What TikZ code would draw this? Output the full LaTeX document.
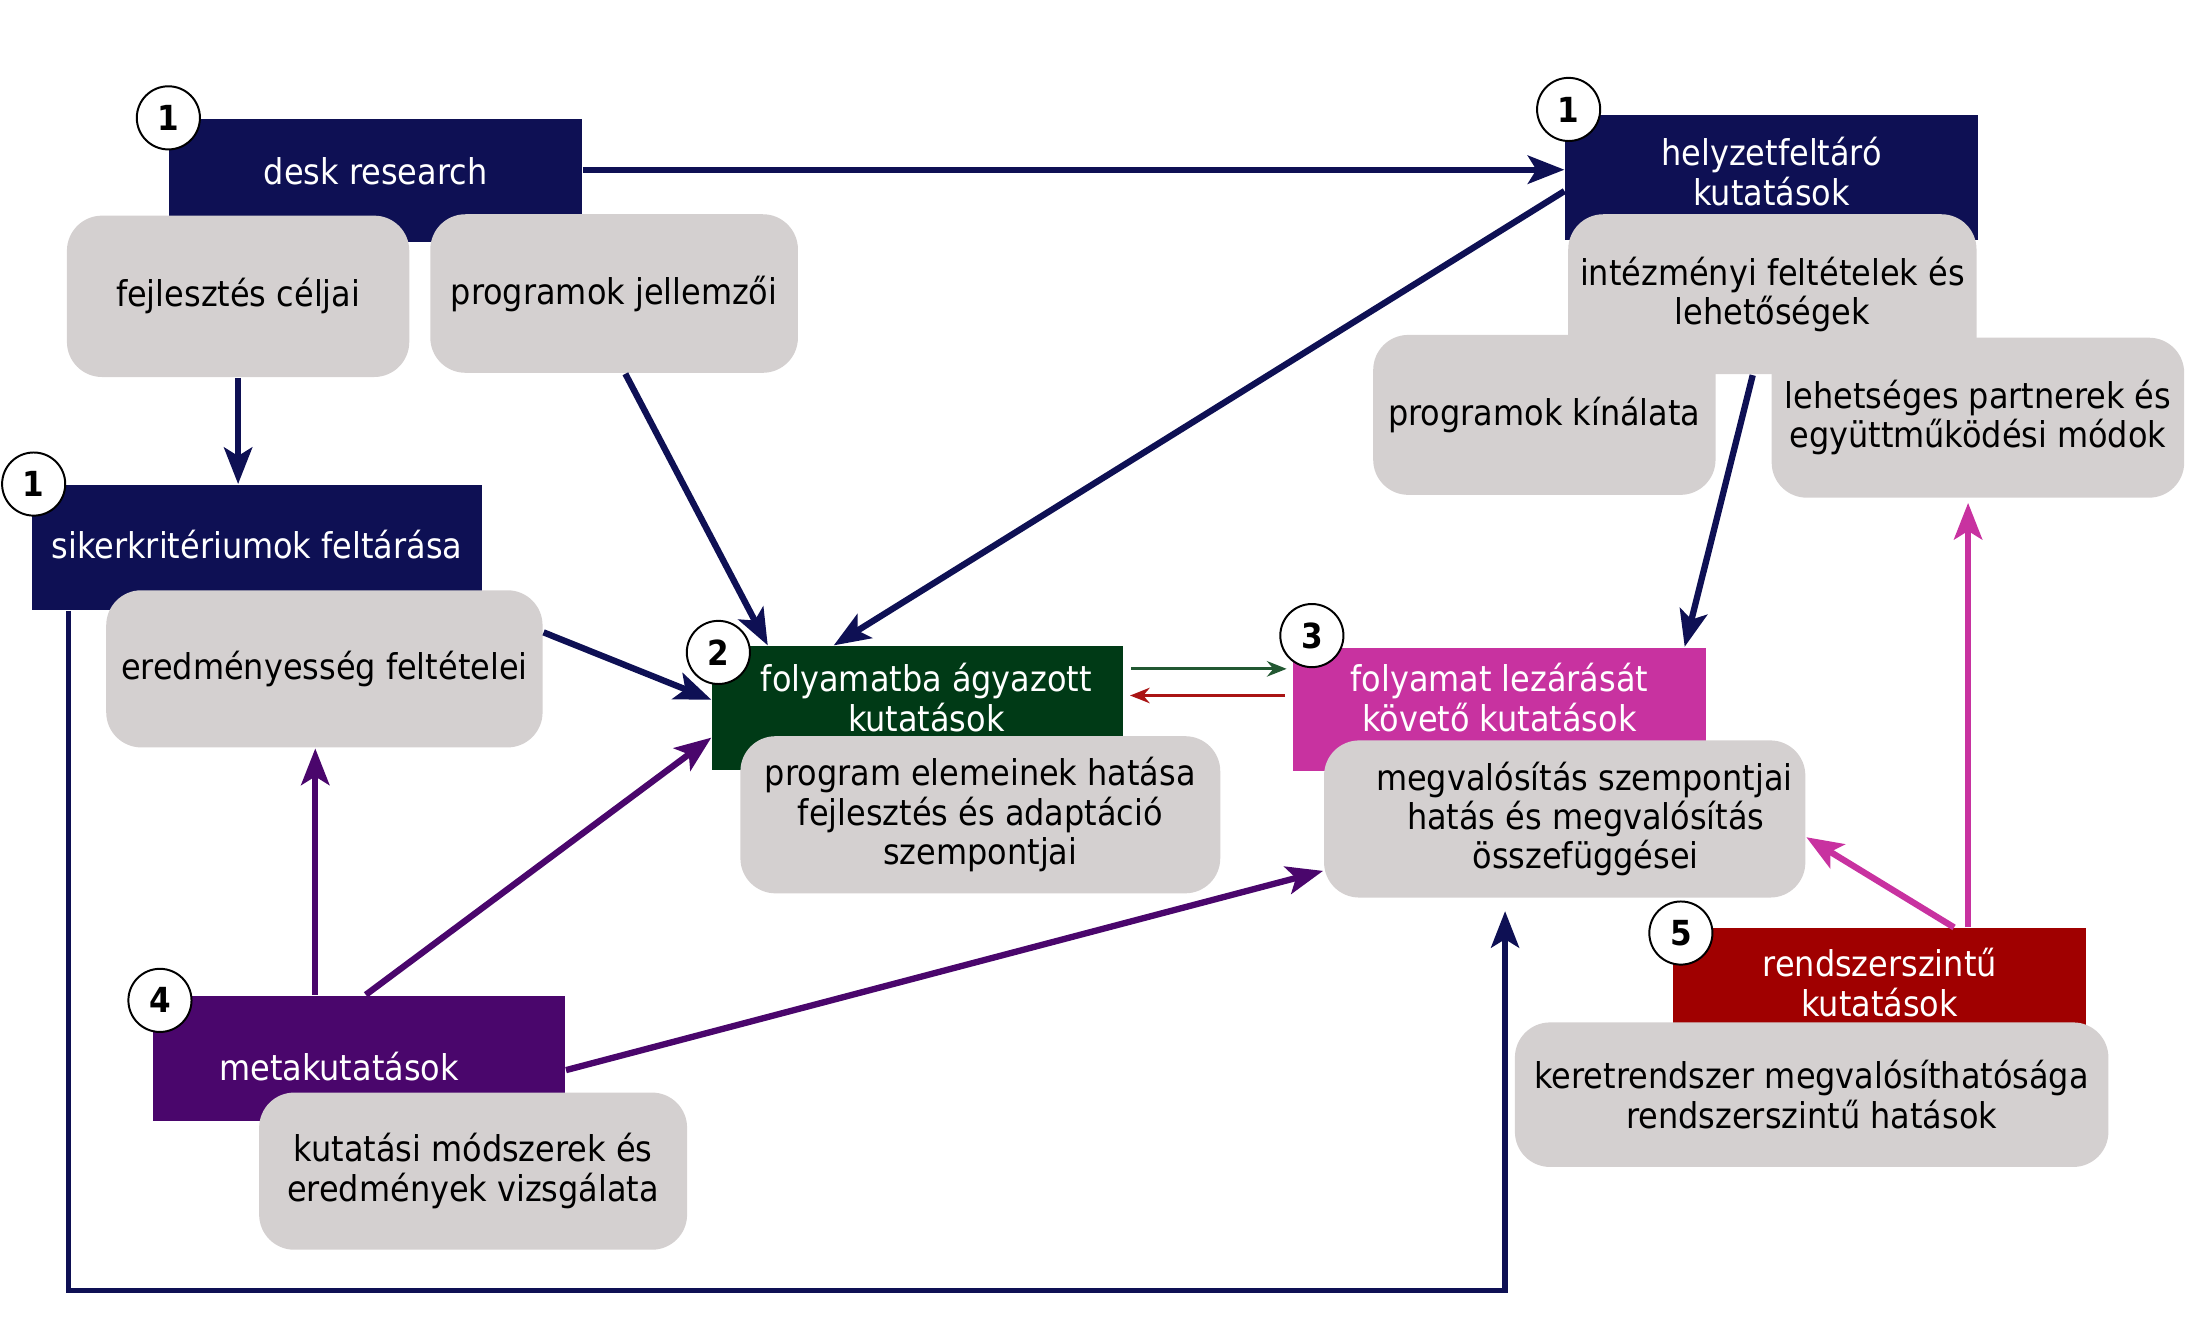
\documentclass[tikz,border=0pt]{standalone}
\usepackage{fontspec}
\setmainfont{DejaVu Sans Condensed}
\usetikzlibrary{arrows.meta}
\definecolor{kutnavy}{RGB}{14,16,84}
\definecolor{kutgreen}{RGB}{0,58,22}
\definecolor{kutmagenta}{RGB}{200,50,160}
\definecolor{kutpurple}{RGB}{74,6,108}
\definecolor{kutred}{RGB}{160,0,0}
\definecolor{kutgray}{RGB}{212,208,208}
\definecolor{nyilzold}{RGB}{34,88,50}
\definecolor{nyilpiros}{RGB}{170,20,20}
\tikzset{every node/.style={font=\fontsize{7.2}{8}\selectfont}}
\tikzset{ %dobozok
    kut/.style={anchor=north west, minimum width=2.94cm, minimum height=0.88cm,
        inner sep=0pt, text=white, align=center, text height=0.2cm},
    szurke/.style={anchor=north west, fill=kutgray, rounded corners=0.25cm,
        inner sep=0pt, align=center},
    szam/.style={circle, draw=black, fill=white, minimum size=0.45cm, inner sep=0pt,
        font=\fontsize{7}{8}\selectfont\bfseries},
    nyil/.style={-{Stealth[length=0.26cm,width=0.2cm,inset=0.06cm]}, line width=0.045cm},
    vekony/.style={-{Stealth[length=0.14cm,width=0.11cm]}, line width=0.022cm,
        shorten <=0.05cm, shorten >=0.04cm},
}

\begin{document}
\begin{tikzpicture}
			\useasboundingbox (0,0) rectangle (15.68,-9.53);
			% 1 - helyzetfeltaras
			\node[kut, fill=kutnavy, text depth=0.14cm, minimum height=0.88cm] (desk) at (1.20,-0.84) {desk research};
			\node[kut, fill=kutnavy, text depth=0.04cm, minimum width=3.21cm, minimum height=0.89cm] (siker) at (0.22,-3.45) {sikerkritériumok feltárása};
			\node[kut, fill=kutnavy, text height=0.45cm, text depth=0.05cm, minimum height=0.89cm] (helyzet) at (11.15,-0.81) {helyzetfeltáró\\kutatások};
			% 2, 3
			\node[kut, fill=kutgreen, text height=0.4cm, text depth=0.07cm, minimum width=2.93cm] (folyam) at (5.07,-4.60) {\hspace*{0.12cm}folyamatba ágyazott\\\hspace*{0.12cm}kutatások};
			\node[kut, fill=kutmagenta, text height=0.4cm, text depth=0.09cm] (lezar) at (9.21,-4.61) {folyamat lezárását\\követő kutatások};
			% 4, 5
			\node[kut, fill=kutpurple, text height=0.38cm, text depth=0.06cm, minimum height=0.89cm] (meta) at (1.08,-7.09) {metakutatások\hspace*{0.28cm}};
			\node[kut, fill=kutred, text height=0.42cm, text depth=0.05cm] (rendszer) at (11.92,-6.61) {rendszerszintű\\kutatások};

			\node[szurke, minimum width=2.44cm, minimum height=1.15cm] (fejl) at (0.47,-1.53) {fejlesztés céljai};
			\node[szurke, minimum width=2.62cm, minimum height=1.13cm] (progj) at (3.06,-1.52) {programok jellemzői};
			\node[szurke, minimum width=3.11cm, minimum height=1.12cm] (ered) at (0.75,-4.20) {eredményesség feltételei};
			\node[szurke, minimum width=3.42cm, minimum height=1.12cm] (progel) at (5.27,-5.24) {program elemeinek hatása\\fejlesztés és adaptáció\\szempontjai};
			\node[szurke, minimum width=3.43cm, minimum height=1.12cm] (megval) at (9.43,-5.27) {\hspace*{0.28cm}megvalósítás szempontjai\\\hspace*{0.3cm}hatás és megvalósítás\\\hspace*{0.3cm}összefüggései};
			\node[szurke, minimum width=2.91cm, minimum height=1.14cm] (intez) at (11.17,-1.52) {intézményi feltételek és\\lehetőségek};
			\node[szurke, minimum width=2.44cm, minimum height=1.14cm] (kinal) at (9.78,-2.38) {programok kínálata};
			\node[szurke, minimum width=2.94cm, minimum height=1.14cm] (lehet) at (12.62,-2.40) {lehetséges partnerek és\\együttműködési módok};
			\node[szurke, minimum width=3.05cm, minimum height=1.12cm] (modsz) at (1.84,-7.78) {kutatási módszerek és\\eredmények vizsgálata};
			\node[szurke, minimum width=4.23cm, minimum height=1.03cm] (keret) at (10.79,-7.28) {keretrendszer megvalósíthatósága\\rendszerszintű hatások};

			% nyilak
			\draw[nyil, kutnavy] (desk.3) -- (desk.3 -| helyzet.west);
			\draw[nyil, kutnavy] ([yshift=-0.1cm]helyzet.west) -- ([xshift=-0.6cm]folyam.north);
			\draw[nyil, kutnavy] ([xshift=0.08cm]progj.south) -- ([xshift=-1.07cm]folyam.north);
			\draw[nyil, kutnavy] (fejl.south) -- (fejl.south |- siker.north);
			\draw[nyil, kutnavy] ([yshift=0.26cm]ered.east) -- ([yshift=0.06cm]folyam.west);
			\draw[nyil, kutnavy] ([xshift=-0.14cm]intez.south) -- ([xshift=1.32cm]lezar.north);
			\coordinate (zoldki) at ([yshift=0.28cm]folyam.east);
			\coordinate (piroski) at ([yshift=0.09cm]folyam.east);
			\draw[vekony, nyilzold] (zoldki) -- (zoldki -| lezar.west);
			\draw[vekony, nyilpiros] (piroski -| lezar.west) -- (piroski);
			\draw[nyil, kutpurple] ([xshift=-0.31cm]meta.north) coordinate (m1) -- (m1 |- ered.south);
			\draw[nyil, kutpurple] ([xshift=0.05cm]meta.north) -- ([yshift=-0.21cm]folyam.west);
			\draw[nyil, kutpurple] ([yshift=-0.085cm]meta.east) -- ([yshift=-0.37cm]megval.west);
			\draw[nyil, kutmagenta] ([xshift=0.53cm]rendszer.north) -- ([yshift=-0.13cm]megval.east);
			\draw[nyil, kutmagenta, shorten >=0.03cm] ([xshift=0.63cm]rendszer.north) coordinate (r1) -- (r1 |- lehet.south);
			\coordinate (hurok) at (7.6,-9.20);
			\draw[nyil, kutnavy, line width=0.038cm] ([xshift=-1.345cm]siker.south) |- (hurok) -| ([xshift=-0.425cm,yshift=-0.09cm]megval.south);

			\node[szam] (sz1a) at (desk.north west) {1};
			\node[szam] (sz1b) at ([xshift=0.02cm]siker.north west) {1};
			\node[szam] (sz1c) at ([xshift=0.03cm,yshift=0.03cm]helyzet.north west) {1};
			\node[szam] (sz2) at ([xshift=0.05cm,yshift=-0.05cm]folyam.north west) {2};
			\node[szam] (sz3) at ([xshift=0.14cm,yshift=0.08cm]lezar.north west) {3};
			\node[szam] (sz4) at ([xshift=0.06cm,yshift=-0.04cm]meta.north west) {4};
			\node[szam] (sz5) at ([xshift=0.06cm,yshift=-0.04cm]rendszer.north west) {5};
\end{tikzpicture}
\end{document}
